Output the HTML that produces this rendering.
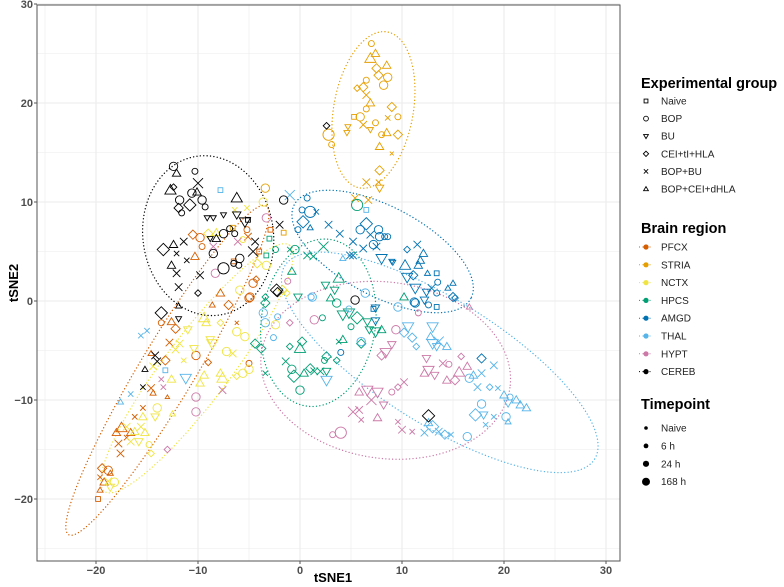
<!DOCTYPE html>
<html><head><meta charset="utf-8">
<style>
body{margin:0;background:#fff;font-family:"Liberation Sans",sans-serif;}
svg{display:block}
</style></head>
<body>
<svg id="chart" width="784" height="587" viewBox="0 0 784 587" xmlns="http://www.w3.org/2000/svg"></svg>
<script>
// ---- data ----
// point tuples: [tSNE1, tSNE2, groupShape(0 Naive,1 BOP,2 BU,3 CEI,4 BOP+BU,5 BOP+CEI), timepoint(0 naive,1 6h,2 24h,3 168h)]
const regions = ["PFCX","STRIA","NCTX","HPCS","AMGD","THAL","HYPT","CEREB"];
const regionColors = ["#D55E00","#E69F00","#F0E442","#009E73","#0072B2","#56B4E9","#CC79A7","#000000"];
const groupLabels = ["Naive","BOP","BU","CEI+tI+HLA","BOP+BU","BOP+CEI+dHLA"];
const timeLabels = ["Naive","6 h","24 h","168 h"];
const xTicks = [-20,-10,0,10,20,30];
const yTicks = [-20,-10,0,10,20,30];

const ptsPFCX = [[-10.5,6.7,3,2],[-9.8,6.4,1,2],[-9.6,5.5,1,1],[-10.3,4.5,5,2],[-5.2,7.2,1,1],[-5.1,6.5,4,2],[-4.9,0.4,1,2],[-4.6,1.8,1,2],[-4.3,2.2,3,1],[-7.8,0.8,5,2],[-2.9,7.2,0,1],[-8.6,-0.4,5,1],[-7.0,-0.4,3,2],[-5.0,0.3,1,2],[-6.2,-2.2,4,0],[-13.6,-2.2,1,1],[-12.6,-2.1,5,2],[-12.2,-2.8,3,2],[-12.8,-4.2,4,2],[-13.2,-6.0,3,2],[-14.6,-5.3,5,1],[-14.6,-8.8,4,2],[-14.4,-9.3,5,1],[-13.0,-9.7,5,0],[-9.0,-6.2,3,1],[-10.2,-5.5,1,2],[-5.0,-6.3,1,1],[-15.4,-10.8,4,1],[-16.2,-11.7,4,1],[-17.5,-12.8,5,3],[-18.0,-13.3,5,2],[-17.8,-14.4,4,2],[-17.6,-15.4,4,2],[-16.6,-13.3,5,2],[-19.4,-16.9,3,2],[-18.8,-17.1,1,2],[-19.6,-17.8,4,1],[-19.2,-18.3,5,2],[-19.6,-19.1,5,1],[-19.8,-20.0,0,1],[-18.6,-17.4,5,1],[-17.0,-13.8,4,1],[-4.0,5.0,0,1],[-6.5,4.0,0,1]];
const ptsSTRIA = [[7.0,26.0,1,1],[6.9,24.5,5,3],[7.4,25.0,5,2],[8.5,23.8,5,2],[8.6,22.6,1,2],[7.5,23.5,3,2],[6.5,22.3,1,1],[6.2,21.6,3,2],[5.6,21.5,3,1],[7.7,22.8,3,2],[8.2,21.8,1,2],[6.5,20.8,4,2],[6.9,20.0,5,2],[6.5,19.4,1,1],[5.9,18.6,1,2],[5.3,18.6,0,1],[6.2,17.8,4,2],[7.4,18.0,1,1],[8.6,18.5,4,1],[9.0,19.6,3,2],[8.5,17.0,5,2],[8.0,16.8,1,1],[9.6,16.8,3,2],[7.8,15.6,5,2],[6.9,17.3,2,1],[2.8,16.8,1,3],[3.1,15.8,1,1],[4.6,17.0,2,1],[4.7,17.6,2,1],[7.8,13.2,3,2],[6.5,12.0,4,2],[7.7,12.0,4,1],[7.8,11.4,2,2],[5.4,10.4,4,2],[6.7,10.2,4,2],[9.0,14.9,4,0],[9.6,18.6,1,1],[-3.4,11.4,1,2],[-1.6,6.9,0,1],[-6.6,7.4,0,1]];
const ptsNCTX = [[-3.6,10.0,1,2],[-5.2,9.4,4,1],[-8.2,6.9,5,2],[-9.0,6.8,3,2],[-4.2,3.8,3,2],[-3.3,3.6,1,2],[-5.9,1.1,1,2],[-1.7,1.1,3,2],[-1.3,0.8,3,1],[-9.4,-1.7,5,3],[-9.2,-2.2,5,2],[-11,-2.9,2,2],[-7.8,-2.2,3,1],[-8.6,-4.3,2,3],[-8.8,-3.9,2,2],[-10.4,-4.8,2,2],[-11.8,-4.3,4,2],[-12.2,-4.9,4,2],[-11.4,-6.0,4,1],[-14.4,-6.6,4,2],[-12.6,-7.9,5,2],[-9.4,-7.5,5,2],[-7.8,-7.3,5,2],[-7.6,-7.8,5,3],[-7.2,-5.1,1,2],[-6.6,-5.3,4,2],[-6.2,-7.6,3,1],[-5.6,-7.3,1,2],[-5.0,-6.9,1,2],[-5.4,-3.6,1,2],[-6.2,-3.1,1,2],[-9.8,-8.3,5,2],[-14.0,-10.8,1,2],[-14.2,-11.7,2,2],[-15.4,-11.7,5,2],[-15.6,-12.7,4,2],[-15.2,-13.3,5,2],[-16.2,-13.2,5,2],[-17,-12.7,4,2],[-16.6,-14.2,4,2],[-15.8,-14.2,2,2],[-14.8,-14.5,1,1],[-14.6,-15.4,3,1],[-12.5,-11.4,5,1],[-18.6,-18.8,2,2],[-18.2,-18.3,1,2],[-18.8,-18.2,4,2],[-6.4,9.2,4,1],[-5.6,6.2,1,1],[-2.4,-2.4,1,2]];
const ptsHPCS = [[-0.5,5.2,1,2],[-1.0,5.2,4,1],[0.7,4.6,4,2],[1.3,4.5,4,2],[2.3,5.5,4,3],[5.6,9.7,1,3],[3.8,2.3,5,3],[2.5,1.6,2,2],[3.4,1.1,2,2],[-0.2,0.4,2,2],[-0.8,3.0,5,2],[-2.4,5.2,1,1],[-3.3,4.6,0,1],[-3.0,6.3,0,1],[3.0,0.3,5,2],[3.6,-0.2,1,2],[4.2,-1.4,2,3],[4.8,-1.2,2,3],[5.6,-1.7,3,3],[6.6,-2.1,2,2],[6.8,-2.9,2,2],[8.0,-2.9,5,2],[7.4,-3.1,2,3],[5.0,-2.6,1,1],[3.8,-4.1,4,1],[4.2,-3.9,5,2],[6.0,-4.3,3,2],[2.6,-5.6,3,2],[2.4,-6.0,1,1],[3.6,-6.0,3,1],[0.2,-4.1,3,2],[0,-4.8,5,3],[-1.0,-4.6,3,1],[-1.4,-6.1,4,2],[-0.8,-6.9,1,2],[-0.6,-7.6,3,3],[0.4,-7.3,5,2],[1.0,-6.8,3,2],[1.4,-7.1,4,2],[2.0,-7.1,4,2],[2.6,-7.1,2,2],[0,-9.0,1,2],[-3.4,-7.3,4,1],[-3.8,-4.8,3,2],[-4.4,-4.3,3,2],[-3.4,-0.2,3,2],[-3.4,0.4,3,1],[2.2,-1.7,1,1],[10.2,0.4,5,2]];
const ptsAMGD = [[0.7,10.4,1,1],[0.2,9.2,1,1],[1.0,9.0,1,3],[1.6,9.0,4,1],[-0.2,7.2,1,1],[0.3,8.0,3,3],[1.0,7.4,5,1],[2.8,7.7,4,2],[3.9,6.8,4,2],[5.9,7.2,1,2],[6.5,7.8,3,3],[6.9,6.7,4,2],[7.2,5.7,1,2],[7.7,7.2,1,2],[7.8,6.5,1,2],[8.3,6.5,1,1],[8.6,6.5,1,1],[5.2,6.0,4,2],[6.2,5.3,4,2],[5.2,4.6,4,2],[7.5,5.5,4,2],[8.0,4.3,2,3],[9.0,4.0,2,1],[12.2,0.1,2,2],[11.2,-0.1,1,2],[12.6,-0.4,1,1],[13.4,-0.6,0,1],[15.2,0.3,3,1],[7.4,-0.7,2,2],[4.0,-5.2,1,1],[11.5,5.7,4,2],[10.5,5.2,3,1],[12.1,4.8,5,2],[11.6,3.6,5,2],[10.3,3.6,5,3],[11.8,4.1,5,2],[12.5,2.8,5,1],[13.4,2.8,0,1],[10.5,2.4,2,3],[11.1,2.6,3,2],[13.5,1.9,1,1],[11.3,1.3,2,3],[12.4,0.9,2,2],[12.9,1.3,4,2],[13.4,0.8,1,1],[15.0,1.8,5,1],[14.5,1.3,5,1],[15.0,0.4,3,2],[11.3,-0.2,1,2],[9.1,3.9,2,1],[4.9,4.6,4,2],[17.8,-5.8,3,2],[7.4,-2.0,2,2],[7.2,-0.8,0,1]];
const ptsTHAL = [[-7.8,11.2,0,1],[-1.0,10.7,4,3],[4.2,4.3,5,1],[6.5,9.2,0,1],[1.1,0.4,1,1],[6.4,0.8,1,2],[9.6,-0.6,1,2],[1.2,0.4,1,2],[10.6,-2.6,2,3],[13.0,-2.6,2,3],[10.2,-3.2,3,2],[11.0,-3.7,3,2],[12.8,-3.6,5,2],[13.0,-4.3,2,3],[13.6,-4.1,4,3],[13.4,-4.6,2,2],[14.4,-4.6,5,2],[11.4,-4.6,3,1],[6.0,-4.1,1,2],[2.6,-8.0,2,3],[-2.6,-3.7,1,1],[-3.4,-2.2,1,2],[-3.6,-1.2,1,2],[-11.2,-7.8,2,3],[-13.2,-7.0,0,1],[-15.6,-3.5,4,1],[-15.0,-3.0,4,1],[-16.6,-9.4,4,1],[-17.6,-10.2,5,1],[19.0,-6.5,4,2],[17.0,-7.5,5,2],[17.8,-7.3,4,2],[16.6,-7.8,1,2],[17.4,-8.7,4,2],[18.6,-8.7,3,1],[19.4,-8.8,4,1],[20.0,-9.5,5,2],[20.6,-9.7,1,1],[21.2,-10.0,5,2],[21.6,-10.5,5,2],[22.2,-10.8,5,2],[20.4,-10.3,2,2],[17.8,-10.4,1,2],[17.2,-11.5,3,3],[18.0,-11.5,2,2],[19.0,-11.7,4,1],[20.2,-11.7,1,2],[20.4,-12.2,5,1],[18.2,-12.5,4,1],[16.4,-13.7,1,2],[14.8,-13.5,4,1],[14.2,-13.5,3,2],[13.6,-13.2,4,2],[13.0,-12.7,3,3],[12.6,-12.3,5,2],[12.2,-13.3,4,2],[-2.2,-1.6,1,1],[4.8,-0.8,1,1]];
const ptsHYPT = [[-3.3,8.4,1,2],[-8.3,2.8,1,2],[-6.1,6.0,4,2],[11.6,-1.2,1,1],[1.4,-1.9,1,2],[-1.0,-2.2,3,1],[9.4,-2.9,1,2],[9.0,-4.4,2,2],[8.4,-5.2,2,3],[8.0,-5.5,3,2],[12.4,-5.8,2,2],[14.0,-6.3,4,2],[14.6,-6.4,1,1],[12.6,-7.0,2,3],[12.2,-7.3,5,2],[13.2,-7.5,2,2],[14.4,-8.0,5,2],[15.2,-8.0,3,2],[15.6,-7.2,5,3],[16.4,-6.6,5,2],[15.8,-5.6,3,1],[10.2,-8.2,4,2],[9.6,-8.7,3,1],[9.0,-9.2,1,1],[6.6,-9.0,2,3],[7.6,-9.2,2,3],[5.8,-9.2,5,2],[7.0,-10.0,4,3],[8.2,-10.5,2,2],[7.6,-11.8,5,2],[5.8,-11.0,4,2],[5.2,-11.2,4,3],[6.0,-12.0,4,1],[4.0,-13.3,1,3],[3.2,-13.5,1,1],[9.6,-12.2,4,1],[10.0,-13.0,4,2],[11.0,-13.2,4,1],[-10.2,-9.7,1,2],[-10.2,-11.2,1,2],[-7.6,-9.0,4,2],[-13.6,-7.9,4,1],[-13.4,-8.7,4,1],[-13.0,-15.0,3,1],[-8.5,5.5,4,2],[16.6,-0.6,5,1],[-1.2,2.0,1,1]];
const ptsCEREB = [[-12.4,13.6,1,2],[-12.1,12.9,5,2],[-12.4,11.5,3,1],[-12.7,11.2,5,3],[-10.3,13.1,1,1],[-10.0,11.9,4,3],[-10.6,10.9,1,2],[-10.1,11.0,5,2],[-11.8,10.2,1,2],[-11.9,9.4,3,2],[-11.6,8.9,1,1],[-10.8,9.7,3,3],[-9.6,10.2,1,2],[-9.3,9.5,1,1],[-6.2,10.4,5,3],[-9.1,8.4,2,1],[-8.5,8.4,2,1],[-7.5,8.7,2,1],[-6.2,8.7,2,2],[-5.4,8.0,2,3],[-5.1,8.2,0,1],[-7.5,6.8,1,2],[-6.9,7.3,1,1],[-6.4,6.8,1,1],[-8.2,6.3,5,2],[-8.8,6.3,2,1],[-13.4,5.2,3,3],[-12.4,5.7,5,2],[-11.4,6.0,4,2],[-12.1,4.8,4,1],[-12.6,3.6,5,2],[-11.1,4.1,4,1],[-12.1,2.8,4,2],[-9.8,2.6,4,2],[-11.9,1.4,4,2],[-5.9,4.3,1,2],[-6.0,3.6,1,1],[-8.5,4.8,1,2],[-7.5,3.3,1,3],[-6.5,3.8,1,1],[-4.4,6.0,4,2],[-2.0,7.7,4,2],[-1.6,10.2,1,2],[-2.3,1.1,3,3],[-10.0,0.8,3,1],[-4.6,5.0,4,3],[-13.6,-1.2,3,3],[-14.2,-5.5,4,2],[-14.0,-6.1,4,2],[-15.2,-6.9,5,1],[-15.4,-8.7,4,1],[-11.9,-0.5,5,1],[-11.9,-1.8,2,1],[5.4,0.1,1,2],[-2.2,0.9,3,2],[12.6,-11.6,3,3],[2.6,17.7,3,1]];
const regionPoints = [ptsPFCX,ptsSTRIA,ptsNCTX,ptsHPCS,ptsAMGD,ptsTHAL,ptsHYPT,ptsCEREB];
// ellipses: center in data units; semi-axes in data units; angle deg
const ellCenterX = [-13.0, 7.2, -10.1, 1.8, 8.1, 13.7, 8.4, -9.0];
const ellCenterY = [-7.0, 19.3, -6.8, -2.2, 5.0, -6.2, -7.0, 6.6];
const ellSemiMajor = [18.8, 3.9, 15.1, 5.6, 9.8, 17.9, 12.3, 6.4];
const ellSemiMinor = [2.8, 8.0, 3.3, 8.5, 4.5, 6.3, 8.9, 8.1];
const ellAngle = [-59, 10, -53, 8, 28, 32, 8, -8];

// ---- scales ----
const PL=37, PR=620, PT=5, PB=561;
const X0=300, XS=10.2, Y0=301, YS=9.9;
function sx(v){return X0+v*XS;}
function sy(v){return Y0-v*YS;}
const sizes=[2.2,3,4.2,5.6];
const NS="http://www.w3.org/2000/svg";
const svg=document.getElementById('chart');
function mk(tag,attrs,parent){const e=document.createElementNS(NS,tag);for(const k in attrs)e.setAttribute(k,attrs[k]);(parent||svg).appendChild(e);return e;}

const panel=mk('rect',{x:PL,y:PT,width:PR-PL,height:PB-PT,fill:'#fff'});


const grid=mk('g',{});


for(let v=-25;v<=30;v+=5){const x=sx(v);if(x<PL||x>PR)continue;const l=mk('line',{x1:x,x2:x,y1:PT,y2:PB,stroke:'#ebebeb','stroke-width':v%10===0?1.1:0.6},grid);}
for(let v=-25;v<=30;v+=5){const y=sy(v);if(y<PT-1||y>PB)continue;const l=mk('line',{y1:y,y2:y,x1:PL,x2:PR,stroke:'#ebebeb','stroke-width':v%10===0?1.1:0.6},grid);}

const eg=mk('g',{});


regions.forEach((r,i)=>{
  const e=mk('ellipse',{cx:0,cy:0,rx:ellSemiMajor[i]*XS,ry:ellSemiMinor[i]*YS,fill:'none',stroke:regionColors[i],'stroke-width':1.3,'stroke-dasharray':'0.1 3.3','stroke-linecap':'round',transform:`translate(${sx(ellCenterX[i])},${sy(ellCenterY[i])}) rotate(${ellAngle[i]})`},eg);
  
  
});

function shape(g,cx,cy,s,r,col,sw){
  let el;
  if(s===0) el=mk('rect',{x:cx-r*0.8,y:cy-r*0.8,width:r*1.6,height:r*1.6,fill:'none',stroke:col,'stroke-width':sw},g);
  else if(s===1) el=mk('circle',{cx:cx,cy:cy,r:r,fill:'none',stroke:col,'stroke-width':sw},g);
  else if(s===2) el=mk('polygon',{points:`${cx-r},${cy-r*0.7} ${cx+r},${cy-r*0.7} ${cx},${cy+r}`,fill:'none',stroke:col,'stroke-width':sw},g);
  else if(s===3) el=mk('polygon',{points:`${cx},${cy-r*1.1} ${cx+r*1.1},${cy} ${cx},${cy+r*1.1} ${cx-r*1.1},${cy}`,fill:'none',stroke:col,'stroke-width':sw},g);
  else if(s===4) el=mk('path',{d:`M${cx-r*0.9},${cy-r*0.9}L${cx+r*0.9},${cy+r*0.9}M${cx-r*0.9},${cy+r*0.9}L${cx+r*0.9},${cy-r*0.9}`,fill:'none',stroke:col,'stroke-width':sw},g);
  else el=mk('polygon',{points:`${cx-r},${cy+r*0.7} ${cx+r},${cy+r*0.7} ${cx},${cy-r}`,fill:'none',stroke:col,'stroke-width':sw},g);
  return el;
}
regions.forEach((r,i)=>{
  const g=mk('g',{});
  
  
  regionPoints[i].forEach(p=>{
    const el=shape(g,sx(p[0]),sy(p[1]),p[2],sizes[p[3]],regionColors[i],0.9);
    
    
  });
});

const border=mk('rect',{x:PL,y:PT,width:PR-PL,height:PB-PT,fill:'none',stroke:'#555','stroke-width':1});



xTicks.forEach(v=>{
  const x=sx(v);
  const t=mk('line',{x1:x,x2:x,y1:PB,y2:PB+3,stroke:'#555'});
  
  
  const tx=mk('text',{x:x,y:PB+13,'text-anchor':'middle','font-size':11,'font-weight':'bold',fill:'#4d4d4d'});
  tx.textContent=v<0?'\u2212'+(-v):String(v);
  
  
});
yTicks.forEach(v=>{
  const y=sy(v);
  const t=mk('line',{x1:PL-3,x2:PL,y1:y,y2:y,stroke:'#555'});
  
  
  const tx=mk('text',{x:PL-4,y:y+4,'text-anchor':'end','font-size':11,'font-weight':'bold',fill:'#4d4d4d'});
  tx.textContent=v<0?'\u2212'+(-v):String(v);
  
  
});
const xt=mk('text',{x:333,y:582,'text-anchor':'middle','font-size':13,'font-weight':'bold',fill:'#000'});
xt.textContent='tSNE1';


const yt=mk('text',{x:0,y:0,'text-anchor':'middle','font-size':13,'font-weight':'bold',fill:'#000',transform:'translate(18,283) rotate(-90)'});
yt.textContent='tSNE2';



const lg=mk('g',{});


function title(txt,y,name){const t=mk('text',{x:641,y:y,'font-size':14.5,'font-weight':'bold',fill:'#000'},lg);t.textContent=txt;}
function label(txt,y){const t=mk('text',{x:661,y:y+3.5,'font-size':10,fill:'#222'},lg);t.textContent=txt;}
title('Experimental group',88,'legend-title-group');
groupLabels.forEach((g,i)=>{const y=101+i*17.6;const s=shape(lg,646,y,i,2.4,'#000',0.9);label(g,y);});
title('Brain region',233,'legend-title-region');
regions.forEach((r,i)=>{const y=247+i*17.8;
  const l=mk('line',{x1:639,x2:653,y1:y,y2:y,stroke:regionColors[i],'stroke-width':1,'stroke-dasharray':'1 2.5'},lg);
  
  
  const c=mk('circle',{cx:646,cy:y,r:2.6,fill:regionColors[i]},lg);
  
  
  label(r,y);});
title('Timepoint',409,'legend-title-timepoint');
timeLabels.forEach((t,i)=>{const y=428+i*17.9;const c=mk('circle',{cx:646,cy:y,r:[1.8,2.4,3.1,4][i],fill:'#000'},lg);label(t,y);});
</script>
</body></html>
